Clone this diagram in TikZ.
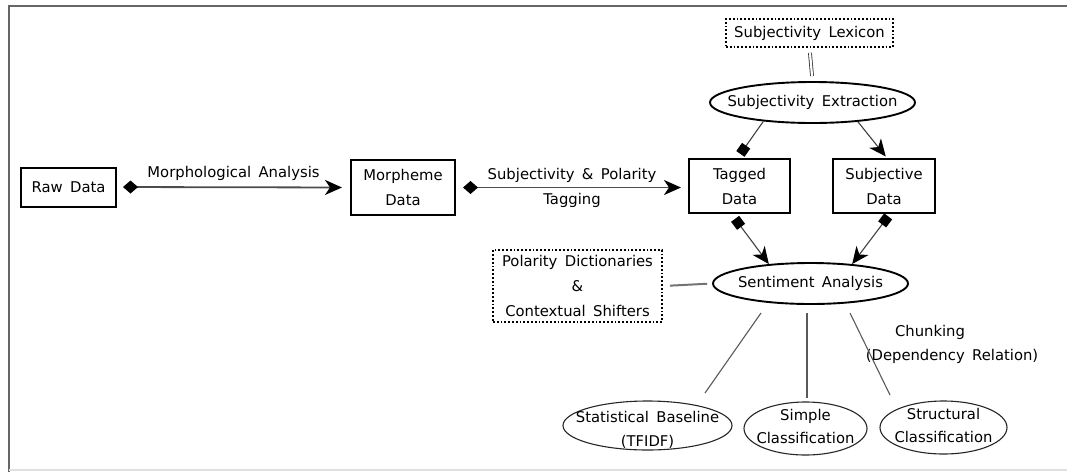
\documentclass[tikz,border=0pt]{standalone}
\usepackage{fontspec}
\setmainfont{DejaVu Sans}
\usetikzlibrary{shapes.geometric,arrows.meta,calc}
\newcommand{\diafont}{\fontsize{14.8}{25}\selectfont\spaceskip=0.5em plus 0.1em\relax}
\newcommand{\leaffont}{\fontsize{14.8}{23.5}\selectfont\spaceskip=0.5em plus 0.1em\relax}
\begin{document}
\begin{tikzpicture}[x=1pt,y=-1pt,
  every node/.style={font=\diafont, inner sep=0pt, align=center},
  databox/.style={draw=black, line width=2pt, rectangle},
  srcbox/.style={draw=black, line width=1.8pt, dotted, rectangle},
  proc/.style={draw=black, line width=1.9pt, ellipse},
  leaf/.style={draw=black!85, line width=1.1pt, ellipse},
  mainarrow/.style={draw=black!70, line width=1.8pt},
  tagarrow/.style={draw=black!75, line width=1.1pt},
  plain/.style={draw=black!65, line width=1.1pt},
]
\useasboundingbox (0,0) rectangle (1067,472);
% frame
\draw[black!60, line width=2pt] (1067,6) -- (9,6) -- (9,472);
\draw[black!12, line width=2pt] (9,470) -- (1067,470);

% nodes
\node[databox, minimum width=95pt, minimum height=39pt] (raw) at (68.5,187) {Raw Data};
\node[databox, minimum width=104pt, minimum height=55pt] (morph) at (403,187.5) {Morpheme\\Data};
\node[databox, minimum width=101pt, minimum height=54pt] (tagged) at (739.5,186) {Tagged\\Data};
\node[databox, minimum width=102pt, minimum height=54pt] (subj) at (884,186) {Subjective\\Data};
\node[srcbox, minimum width=167pt, minimum height=28pt] (lex) at (809.5,33) {Subjectivity Lexicon};
\node[proc, minimum width=205pt, minimum height=41pt, label={center:Subjectivity Extraction}] (ext) at (812.5,102.5) {};
\node[proc, minimum width=195pt, minimum height=41pt, label={center:Sentiment Analysis}] (sent) at (810.5,283.5) {};
\node[srcbox, minimum width=169pt, minimum height=72pt] (pol) at (577.5,286) {Polarity Dictionaries\\\&\\Contextual Shifters};
\node[leaf, minimum width=169pt, minimum height=49pt, label={[font=\leaffont, yshift=-4.5pt]center:Statistical Baseline\\(TFIDF)}] (stat) at (647.5,425.5) {};
\node[leaf, minimum width=123pt, minimum height=53pt, label={[font=\leaffont, yshift=2pt]center:Simple\\Classification}] (simple) at (805.5,428.5) {};
\node[leaf, minimum width=127pt, minimum height=53pt, label={[font=\leaffont, yshift=2pt]center:Structural\\Classification}] (struct) at (943.5,427.5) {};
\node (chunk1) at (930,332) {Chunking};
\node (chunk2) at (952,356) {(Dependency Relation)};

% main flow
\draw[mainarrow, {Turned Square[length=15pt,width=13pt,black]}-{Stealth[length=17pt,width=15pt,inset=5pt,black]}, shorten <=6pt, shorten >=8pt]
  (raw.east) -- node[above=6pt] {Morphological Analysis} (morph.west);
\draw[mainarrow, {Turned Square[length=15pt,width=13pt,black]}-{Stealth[length=17pt,width=15pt,inset=5pt,black]}, shorten <=7pt, shorten >=7pt]
  (morph.east) -- node {Subjectivity \& Polarity\\Tagging} (morph.east -| tagged.west);

% lexicon
\draw[black!80, line width=0.8pt, double, double distance=2.2pt, shorten <=5pt, shorten >=5pt] (lex.south) -- (ext.north);

% extraction outputs
\draw[tagarrow, -{Square[length=10pt,width=10pt,black]}, shorten >=5pt] (ext.201) -- ([xshift=-2pt]tagged.north);
\draw[tagarrow, -{Stealth[length=17pt,width=15pt,inset=5pt,black]}, shorten >=2pt] (ext.337) -- ([xshift=3pt]subj.north);

% into sentiment
\draw[tagarrow, {Square[length=10pt,width=10pt,black]}-{Stealth[length=17pt,width=15pt,inset=5pt,black]}, shorten <=6pt] ([xshift=-8pt]tagged.south) -- (sent.155);
\draw[tagarrow, {Square[length=10pt,width=10pt,black]}-{Stealth[length=17pt,width=15pt,inset=5pt,black]}, shorten <=3pt] ([xshift=6pt]subj.south) -- (sent.25);

% polarity link
\draw[black!55, line width=2pt, shorten <=7pt, shorten >=5pt] (pol.east) -- (sent.west);

% outputs
\draw[plain] ($(sent)+(-49.5,29.5)$) -- ($(stat)+(57.5,-32.5)$);
\draw[plain] ($(sent)+(-3.5,29.5)$) -- ($(simple)+(1.5,-30.5)$);
\draw[plain] ($(sent)+(39.5,29.5)$) -- ($(struct)+(-53.5,-32.5)$);
\end{tikzpicture}
\end{document}
